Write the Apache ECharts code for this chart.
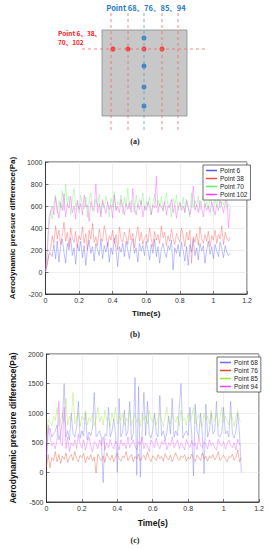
<!DOCTYPE html>
<html>
<head>
<meta charset="utf-8">
<script src="https://cdn.jsdelivr.net/npm/echarts@6/dist/echarts.min.js"></script>
<style>html,body{margin:0;padding:0;background:#fff;}#c{width:270px;height:550px;}</style>
</head>
<body>
<div id="c"></div>
<script>
// ---------- schematic (a) ----------
const squareBox = [20, 17, 105, 103];
const redLineX = [29, 46, 80, 96];
const blueLineX = [62];
const hLineY = [36];
const redDotsX = [31, 46, 62, 80];
const blueDotsY = [25, 53, 74, 93];

// ---------- time series ----------
const dt = 0.01;
const xTicks = [0, 0.2, 0.4, 0.6, 0.8, 1, 1.2];
const namesB = ['Point 6', 'Point 38', 'Point 70', 'Point 102'];
const namesC = ['Point 68', 'Point 76', 'Point 85', 'Point 94'];

const p6 = [0,60,150,170,140,250,120,280,90,230,
300,180,80,260,200,310,150,220,70,250,
190,280,130,240,60,210,290,170,230,100,
260,200,150,300,120,240,180,270,90,220,
160,310,210,50,230,180,260,140,280,200,
120,250,300,170,220,90,260,190,240,150,
280,200,110,250,170,300,140,230,80,210,
260,180,130,240,200,290,20,220,170,250,
140,270,190,100,230,60,250,180,300,150,
220,110,260,190,240,80,200,280,160,230,
120,250,190,140,270,210,130,240,180,150,170];
const p38 = [0,80,160,200,330,260,420,300,380,250,
340,450,280,360,230,400,310,270,370,220,
330,290,410,260,350,200,380,300,440,270,
320,240,390,310,280,420,350,230,330,290,
380,260,340,200,410,300,270,360,320,250,
390,290,350,220,330,410,280,360,250,310,
340,270,400,300,230,370,290,340,260,420,
310,360,240,330,280,390,300,250,350,310,
270,400,330,230,360,290,380,80,320,270,
350,240,410,300,260,340,280,370,230,330,
290,380,260,340,300,420,250,360,310,280,320];
const p70 = [0,200,500,560,480,620,700,530,650,580,
740,560,800,610,690,520,660,760,590,630,
540,700,610,570,680,500,640,720,590,550,
660,600,710,530,640,580,690,620,500,670,
590,730,560,640,610,700,530,680,600,760,
570,650,620,540,700,590,660,610,720,560,
640,600,680,520,630,710,580,650,600,690,
550,640,720,590,620,500,670,610,700,560,
630,590,680,540,660,610,500,720,580,650,
600,690,560,630,710,590,640,570,680,620,
550,660,600,700,580,640,610,690,570,620,600];
const p102 = [0,150,420,540,600,520,680,570,490,630,
560,710,500,620,580,690,540,600,480,650,
570,620,520,700,590,610,460,640,560,590,
800,540,620,500,660,580,530,640,570,610,
490,700,560,600,540,660,590,520,620,570,
630,540,760,580,520,610,570,650,500,600,
560,640,590,520,610,580,870,540,620,590,
560,640,520,600,580,660,540,610,490,590,
630,560,600,540,650,580,520,600,780,560,
610,540,650,580,500,620,560,600,540,640,
580,520,610,560,650,600,540,620,680,400,590];

const p68 = [200,700,750,600,650,700,800,550,650,900,
1500,600,700,550,1000,650,600,750,1200,580,
700,620,1000,550,680,620,750,1350,600,650,
700,580,-170,650,620,1100,600,700,900,650,
0,1250,600,680,1050,620,700,1200,550,650,
1600,-50,1450,-80,700,1350,620,1200,650,580,
700,1000,650,600,1300,620,700,550,680,950,
650,1250,600,700,620,1100,1500,580,650,700,
620,1100,650,-60,1150,700,600,1000,650,-20,
1150,600,700,1000,650,700,1200,620,600,680,
1100,650,700,600,1200,650,580,700,1000,650,0];
const p76 = [100,300,80,250,200,350,180,300,150,280,
220,330,170,260,300,200,350,230,180,290,
250,320,160,270,220,300,190,260,-10,310,
240,200,280,170,330,250,210,290,180,260,
320,230,190,280,250,350,200,260,300,180,
270,230,310,190,250,290,210,340,240,180,
280,250,200,300,230,270,190,320,250,210,
290,180,260,330,230,200,280,250,300,190,
260,220,310,240,180,290,250,200,330,230,
270,190,280,240,300,210,260,350,200,250,
290,230,180,270,250,310,200,260,380,180,250];
const p85 = [500,900,850,800,950,880,1100,780,900,1000,
850,1250,800,950,880,1350,820,900,1000,780,
950,880,1050,800,920,860,1000,780,900,1100,
850,950,800,1050,880,920,780,1000,860,1100,
820,950,880,1000,790,920,860,1050,800,900,
980,850,920,780,1000,880,950,820,1050,900,
850,980,800,920,1000,860,780,950,1100,880,
820,1000,900,850,950,780,1050,880,920,800,
1000,860,950,1100,820,900,980,850,780,1000,
880,950,820,1050,900,860,1000,780,920,1100,
850,950,880,800,1000,920,780,950,1050,880,850];
const p94 = [300,800,600,450,500,400,550,1200,500,450,
1100,400,600,350,500,450,550,400,650,480,
420,550,380,500,600,450,350,520,480,400,
550,450,600,380,500,420,560,450,400,530,
470,380,550,450,500,400,600,420,480,550,
450,380,520,470,600,400,500,450,350,550,
480,420,580,450,400,520,470,550,380,500,
450,600,420,480,550,400,500,450,380,560,
470,420,540,450,500,380,600,450,420,520,
480,400,550,450,500,420,380,560,470,450,
520,400,480,550,450,420,500,380,560,470,450];

const colorsB = ['#5858ff', '#ff4848', '#66ee66', '#ff40ff'];
const colorsC = ['#6c6cff', '#e04a28', '#9ee23c', '#ee48ff'];

function toXY(vals) {
  return vals.map((v, i) => [+(i * dt).toFixed(2), v]);
}

const chart = echarts.init(document.getElementById('c'), null, { renderer: 'svg' });
const FONT = 'Liberation Sans';

function plotAxes(gridIndex, yMin, yMax, yInt, nameGapY, nameGapX, nameSize) {
  const common = {
    gridIndex,
    axisLine: { show: true, onZero: false, lineStyle: { color: '#222', width: 0.8 } },
    axisTick: { show: true, inside: true, length: 3, lineStyle: { color: '#222', width: 0.6 } },
    axisLabel: { color: '#333', fontSize: 7, fontFamily: FONT, margin: 3, formatter: v => String(v) },
    splitLine: { show: true, lineStyle: { color: '#e4e4e4', width: 0.6 } },
    nameLocation: 'middle',
    nameTextStyle: { fontWeight: 'bold', fontSize: nameSize, fontFamily: FONT, color: '#111' }
  };
  return {
    x: Object.assign({}, common, { type: 'value', min: 0, max: 1.2, interval: 0.2, name: 'Time(s)', nameGap: nameGapX }),
    y: Object.assign({}, common, { type: 'value', min: yMin, max: yMax, interval: yInt, name: 'Aerodynamic pressure difference(Pa)', nameGap: nameGapY })
  };
}

const axB = plotAxes(1, -200, 1000, 200, 23, 15, 8);
const axC = plotAxes(2, -500, 2000, 500, 23, 16, 8.5);

const series = [];
// schematic
series.push({
  type: 'line', xAxisIndex: 0, yAxisIndex: 0, data: [], silent: true,
  markArea: { silent: true, itemStyle: { color: '#c8c8c8', borderColor: '#8a8a8a', borderWidth: 0.8 },
    data: [[{ coord: [squareBox[0], squareBox[1]] }, { coord: [squareBox[2], squareBox[3]] }]] }
});
redLineX.forEach(x => series.push({ type: 'line', xAxisIndex: 0, yAxisIndex: 0, symbol: 'none', silent: true,
  data: [[x, 0], [x, 119]], lineStyle: { color: '#f06a6a', width: 0.8, type: [3, 3] } }));
blueLineX.forEach(x => series.push({ type: 'line', xAxisIndex: 0, yAxisIndex: 0, symbol: 'none', silent: true,
  data: [[x, 0], [x, 119]], lineStyle: { color: '#5b9bd5', width: 0.8, type: [3, 3] } }));
hLineY.forEach(y => series.push({ type: 'line', xAxisIndex: 0, yAxisIndex: 0, symbol: 'none', silent: true,
  data: [[0, y], [126, y]], lineStyle: { color: '#f06a6a', width: 0.8, type: [3, 3] } }));
series.push({ type: 'scatter', xAxisIndex: 0, yAxisIndex: 0, symbolSize: 5, silent: true,
  data: blueDotsY.map(y => [blueLineX[0], y]), itemStyle: { color: '#1f74c4' } });
series.push({ type: 'scatter', xAxisIndex: 0, yAxisIndex: 0, symbolSize: 5, silent: true,
  data: redDotsX.map(x => [x, hLineY[0]]), itemStyle: { color: '#ff1c1c' } });

[p6, p38, p70, p102].forEach((vals, i) => series.push({
  name: namesB[i], type: 'line', xAxisIndex: 1, yAxisIndex: 1, symbol: 'none', silent: true,
  data: toXY(vals), lineStyle: { color: colorsB[i], width: 0.5, opacity: 0.75 }, itemStyle: { color: colorsB[i] }
}));
[p68, p76, p85, p94].forEach((vals, i) => series.push({
  name: namesC[i], type: 'line', xAxisIndex: 2, yAxisIndex: 2, symbol: 'none', silent: true,
  data: toXY(vals), lineStyle: { color: colorsC[i], width: 0.5, opacity: 0.75 }, itemStyle: { color: colorsC[i] }
}));

function legendFor(names, left, top) {
  return {
    data: names, orient: 'vertical', left, top, padding: [2, 3, 2, 3], itemGap: 1,
    itemWidth: 11, itemHeight: 1.5, icon: 'rect',
    backgroundColor: '#fff', borderColor: '#333', borderWidth: 0.7, borderRadius: 0,
    textStyle: { fontSize: 6.5, fontFamily: FONT, color: '#222', padding: [0, 0, 0, -2] },
    selectedMode: false
  };
}

chart.setOption({
  animation: false,
  backgroundColor: '#fff',
  grid: [
    { left: 82, top: 13, width: 126, height: 119 },
    { left: 45, top: 162, width: 202, height: 132, show: true, borderColor: '#222', borderWidth: 0.8, backgroundColor: '#fff' },
    { left: 35, top: 354, width: 224, height: 148, show: true, borderColor: '#222', borderWidth: 0.8, backgroundColor: '#fff' }
  ],
  xAxis: [
    { type: 'value', gridIndex: 0, min: 0, max: 126, show: false },
    axB.x, axC.x
  ],
  yAxis: [
    { type: 'value', gridIndex: 0, min: 0, max: 119, inverse: true, show: false },
    axB.y, axC.y
  ],
  legend: [legendFor(namesB, 203, 165), legendFor(namesC, 217, 357)],
  series,
  graphic: [
    { type: 'text', style: { text: 'Point 68、76、85、94', x: 146, y: 7, textAlign: 'center', textVerticalAlign: 'middle',
      fill: '#1f7bc8', font: 'bold 7.5px "Noto Sans CJK SC", sans-serif' } },
    { type: 'text', style: { text: 'Point 6、38、\n70、102', x: 58, y: 28, textAlign: 'left', textVerticalAlign: 'top', lineHeight: 9,
      fill: '#ff1a1a', font: 'bold 6.5px "Noto Sans CJK SC", sans-serif' } },
    { type: 'text', style: { text: '(a)', x: 135, y: 141, textAlign: 'center', textVerticalAlign: 'middle', fill: '#222', font: 'bold 8px "Liberation Serif", serif' } },
    { type: 'text', style: { text: '(b)', x: 135, y: 334, textAlign: 'center', textVerticalAlign: 'middle', fill: '#222', font: 'bold 8px "Liberation Serif", serif' } },
    { type: 'text', style: { text: '(c)', x: 135, y: 540, textAlign: 'center', textVerticalAlign: 'middle', fill: '#222', font: 'bold 8px "Liberation Serif", serif' } }
  ]
});
</script>
</body>
</html>
